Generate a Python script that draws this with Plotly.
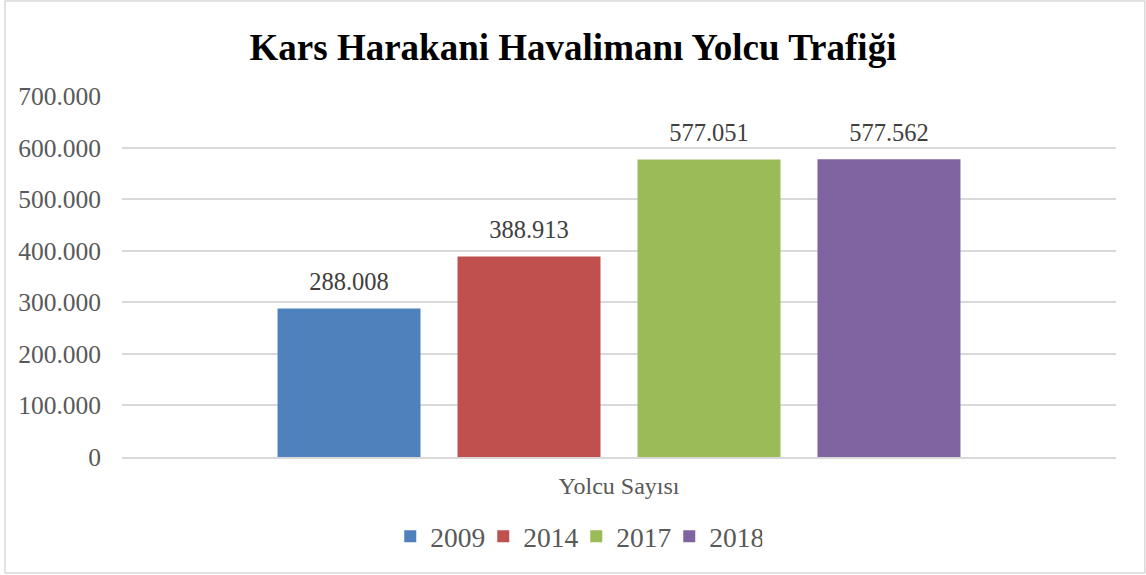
import plotly.graph_objects as go

category = ["Yolcu Sayısı"]
years = ["2009", "2014", "2017", "2018"]
passengers = [288008, 388913, 577051, 577562]
colors = ["#4F81BD", "#C0504D", "#9BBB59", "#8064A2"]

y_ticks = [0, 100000, 200000, 300000, 400000, 500000, 600000, 700000]

fig = go.Figure()

for year, value, color in zip(years, passengers, colors):
    fig.add_trace(go.Bar(
        x=category,
        y=[value],
        name=year,
        marker=dict(color=color, line=dict(width=0)),
        # small empty second line lifts the label off the bar top
        texttemplate="<span style='font-size:24.5px'>%{y:,d}</span><br> ",
        textposition="outside",
        textfont=dict(size=10, color="#404040", family="Liberation Serif"),
        cliponaxis=False,
    ))

fig.update_yaxes(
    range=[0, 700000],
    tickvals=y_ticks,
    tickformat=",d",
    showgrid=True,
    gridcolor="#D9D9D9",
    gridwidth=1.5,
    zeroline=False,
    ticklabelstandoff=20,
    tickfont=dict(size=25.5, color="#595959", family="Liberation Serif"),
)
fig.update_xaxes(
    showline=True,
    linecolor="#D9D9D9",
    linewidth=1.5,
    tickfont=dict(size=24, color="#595959", family="Liberation Serif"),
    ticklabelstandoff=6,
)

# chart border
fig.add_shape(type="rect", xref="paper", yref="paper",
              x0=-0.1177, x1=1.029, y0=-0.321, y1=1.263,
              line=dict(color="#D9D9D9", width=1.5), layer="below")

fig.update_layout(
    title=dict(text="<b>Kars Harakani Havalimanı Yolcu Trafiği</b>",
               x=0.5, xanchor="center", y=0.918, yanchor="middle",
               font=dict(size=37, color="black", family="Liberation Serif")),
    barmode="group",
    bargap=0.2757,
    bargroupgap=0.2056,
    separators=",.",
    plot_bgcolor="white",
    paper_bgcolor="white",
    width=1146,
    height=575,
    margin=dict(l=122, r=30, t=96, b=118),
    showlegend=True,
    legend=dict(orientation="h", x=0.457, xanchor="center", y=-0.22, yanchor="middle",
                font=dict(size=27.5, color="#595959", family="Liberation Serif"),
                itemwidth=30, entrywidth=48, tracegroupgap=0),
)

fig.write_html("out.html", config={"displayModeBar": False},
               post_script="document.body.style.margin='0';")
